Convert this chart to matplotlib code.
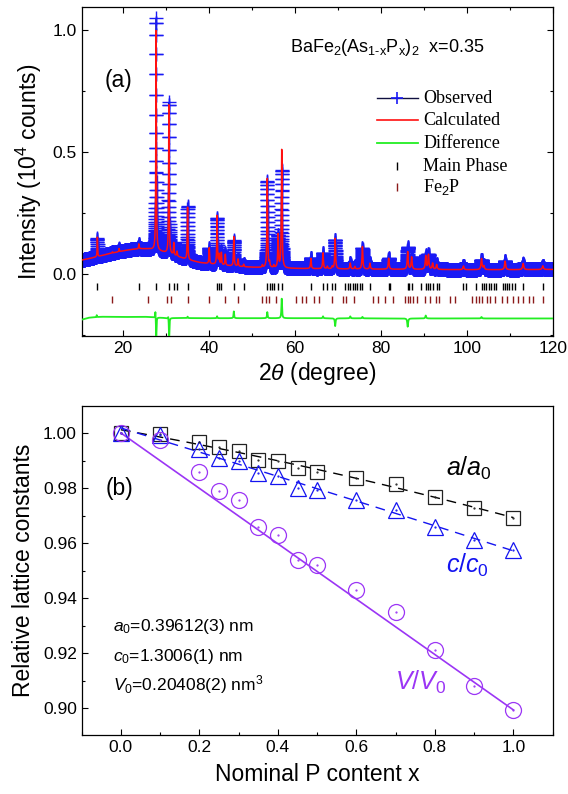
import numpy as np
import matplotlib
matplotlib.use('Agg')
import matplotlib.pyplot as plt
from matplotlib.ticker import MultipleLocator, FixedLocator, FormatStrFormatter

plt.rcParams['font.family'] = ['Liberation Sans', 'DejaVu Sans']
plt.rcParams['mathtext.fontset'] = 'custom'
plt.rcParams['mathtext.rm'] = 'Liberation Sans'
plt.rcParams['mathtext.it'] = 'Liberation Sans:italic'
plt.rcParams['mathtext.bf'] = 'Liberation Sans:bold'

# ---------------- Panel (a): XRD refinement ----------------
# background control points (2theta, 10^4 counts)
bg_pos = [10, 12, 14, 16, 18, 20, 22, 24, 26, 28, 30, 32, 35, 38, 42, 46, 50, 55, 60, 70, 80, 90, 100, 110, 120]
bg_val = [0.055, 0.062, 0.070, 0.079, 0.087, 0.094, 0.100, 0.103, 0.102, 0.096, 0.086, 0.075, 0.058, 0.046, 0.037, 0.031, 0.027, 0.024, 0.022, 0.020, 0.019, 0.018, 0.017, 0.017, 0.018]

# reflections: position, calculated height, observed height
peak_pos = [14.05, 17.56, 19.1, 23.7, 27.71, 30.69, 31.83, 32.60, 35.04, 40.08,
            41.91, 42.37, 42.90, 43.82, 45.80, 46.79, 48.09, 52.44, 53.59, 54.12,
            55.11, 56.11, 56.95, 63.74, 66.56, 67.56, 68.70, 69.39, 72.90, 73.97,
            75.73, 77.48, 81.83, 86.26, 87.18, 90.46, 91.10, 92.06, 93.00, 99.24,
            103.44, 104.0, 108.93, 113.13, 117.71]
peak_calc = [0.080, 0.005, 0.013, 0.020, 0.900, 0.610, 0.050, 0.020, 0.215, 0.065,
             0.200, 0.040, 0.050, 0.045, 0.120, 0.030, 0.010, 0.010, 0.365, 0.020,
             0.010, 0.135, 0.485, 0.042, 0.065, 0.010, 0.010, 0.125, 0.024, 0.010,
             0.092, 0.024, 0.045, 0.072, 0.050, 0.055, 0.060, 0.025, 0.020, 0.015,
             0.045, 0.015, 0.035, 0.025, 0.015]
peak_obs = [0.075, 0.005, 0.013, 0.020, 0.950, 0.620, 0.050, 0.020, 0.220, 0.065,
            0.190, 0.045, 0.055, 0.050, 0.105, 0.030, 0.010, 0.010, 0.355, 0.020,
            0.010, 0.130, 0.400, 0.045, 0.065, 0.010, 0.010, 0.120, 0.024, 0.010,
            0.085, 0.024, 0.045, 0.090, 0.050, 0.055, 0.060, 0.025, 0.020, 0.015,
            0.040, 0.015, 0.035, 0.025, 0.015]

main_ticks = [14.05, 23.66, 27.71, 30.69, 31.83, 32.60, 35.04, 41.91, 42.37, 42.90,
              45.80, 48.09, 53.59, 54.12, 54.58, 55.11, 56.11, 56.95, 63.74, 66.56,
              67.56, 68.70, 69.39, 71.76, 72.29, 72.90, 73.44, 73.97, 74.58, 75.11,
              75.73, 77.48, 81.83, 82.21, 86.26, 86.50, 87.18, 89.31, 90.46, 90.99,
              91.53, 92.06, 92.98, 93.44, 99.24, 99.85, 102.14, 103.44, 103.97, 104.50,
              105.11, 105.65, 106.26, 106.87, 108.55, 108.93, 109.31, 109.92, 110.46,
              111.22, 113.13, 117.71]
fe2p_ticks = [17.56, 25.73, 30.31, 31.07, 35.04, 40.08, 43.82, 46.79, 52.44, 53.21,
              53.97, 55.65, 60.23, 61.60, 62.60, 64.43, 65.57, 68.70, 71.30, 71.91,
              73.66, 78.17, 79.31, 80.92, 82.82, 85.65, 86.26, 86.79, 87.40, 88.47,
              90.23, 91.53, 92.90, 93.51, 96.18, 97.25, 101.30, 102.06, 102.82, 103.59,
              104.73, 105.50, 106.64, 108.17, 109.31, 110.69, 111.98, 113.13, 114.50,
              115.42, 117.71]

diff_base_pos = [10, 12, 15, 20, 25, 30, 40, 60, 90, 120]
diff_base_val = [-0.190, -0.180, -0.176, -0.177, -0.176, -0.181, -0.182, -0.182, -0.183, -0.183]
diff_pos = [13.9, 27.55, 27.75, 30.55, 30.75, 35.04, 41.91, 45.80, 53.59, 56.95, 66.56, 69.39, 72.9, 75.73, 86.26, 90.46, 103.44]
diff_amp = [0.008, 0.030, -0.090, 0.012, -0.090, 0.006, 0.008, 0.028, 0.025, 0.080, 0.008, -0.032, 0.008, 0.006, -0.034, 0.012, 0.006]

# ---------------- Panel (b): lattice constants ----------------
x_nom = [0.0, 0.1, 0.2, 0.25, 0.3, 0.35, 0.4, 0.45, 0.5, 0.6, 0.7, 0.8, 0.9, 1.0]
a_rel = [1.0000, 0.9995, 0.9969, 0.9949, 0.9936, 0.9903, 0.9897, 0.9873, 0.9860, 0.9836, 0.9813, 0.9769, 0.9726, 0.9693]
c_rel = [1.0000, 0.9993, 0.9942, 0.9909, 0.9897, 0.9855, 0.9842, 0.9802, 0.9794, 0.9755, 0.9719, 0.9660, 0.9612, 0.9576]
v_rel = [1.0000, 0.9976, 0.9860, 0.9788, 0.9758, 0.9660, 0.9630, 0.9537, 0.9521, 0.9430, 0.9351, 0.9212, 0.9081, 0.8994]

BLUE = '#1414F0'
PURPLE = '#9B35F5'
FE2P = '#8B1A1A'

def profile(tt, pos, heights, base):
    out = np.interp(tt, bg_pos, base)
    for p, h in zip(pos, heights):
        w = 0.055 + 0.0009 * (p - 10)
        out = out + h / (1.0 + ((tt - p) / w) ** 2)
    return out

tt = np.arange(10.0, 120.0001, 0.01)
calc = profile(tt, peak_pos, peak_calc, bg_val)
obs = profile(tt, peak_pos, peak_obs, bg_val)
diff = np.interp(tt, diff_base_pos, diff_base_val)
for p, h in zip(diff_pos, diff_amp):
    w = 0.05 + 0.0008 * (p - 10)
    diff = diff + h / (1.0 + ((tt - p) / w) ** 2)

fig = plt.figure(figsize=(5.68, 7.94), dpi=100)
ax1 = fig.add_axes([0.1438, 0.5768, 0.8292, 0.4147])
ax2 = fig.add_axes([0.1438, 0.0743, 0.8292, 0.4147])

ax1.plot(tt, obs, color='#00007A', lw=0.6, marker='+', ms=10.5, mew=1.0,
         mec='#1A1AF5', zorder=2)
ax1.plot(tt, calc, color='#FF1010', lw=1.1, zorder=3)
ax1.plot(tt, diff, color='#22EE22', lw=1.3, zorder=3)
ax1.vlines(main_ticks, -0.066, -0.039, color='black', lw=1.0)
ax1.vlines(fe2p_ticks, -0.118, -0.091, color=FE2P, lw=1.0)

ax1.set_xlim(10.4, 120)
ax1.set_ylim(-0.255, 1.095)
ax1.xaxis.set_major_locator(MultipleLocator(20))
ax1.xaxis.set_minor_locator(MultipleLocator(10))
ax1.yaxis.set_major_locator(FixedLocator([0.0, 0.5, 1.0]))
ax1.yaxis.set_minor_locator(FixedLocator([-0.25, 0.25, 0.75]))
ax1.set_yticklabels(['0.0', '0.5', '1.0'])
ax1.tick_params(which='both', direction='in', top=True, right=True, labelsize=12.5)
ax1.tick_params(which='major', length=4.5, width=0.8)
ax1.tick_params(which='minor', length=2.5, width=0.8)
ax1.set_xlabel(r'2$\theta$ (degree)', fontsize=16.5, labelpad=3)
ax1.set_ylabel(r'Intensity (10$^4$ counts)', fontsize=16.5, labelpad=6)

ax1.text(0.442, 0.875, r'BaFe$_2$(As$_{\text{1-x}}$P$_{\mathrm{x}}$)$_2$  x=0.35',
         transform=ax1.transAxes, fontsize=13, va='center', ha='left')
ax1.text(0.049, 0.777, '(a)', transform=ax1.transAxes, fontsize=16.5, va='center', ha='left')

# legend drawn by hand
lx0, lx1, ltx = 0.626, 0.714, 0.725
rows = [0.7227, 0.656, 0.585, 0.516, 0.453]
serif = ['Liberation Serif', 'DejaVu Serif']
ax1.plot([lx0, lx1], [rows[0]] * 2, color='#101040', lw=1.0, transform=ax1.transAxes)
ax1.plot([(lx0 + lx1) / 2], [rows[0]], marker='+', ms=9, mew=1.2, color='#1A1AF5',
         transform=ax1.transAxes)
ax1.plot([lx0, lx1], [rows[1]] * 2, color='#FF1010', lw=1.2, transform=ax1.transAxes)
ax1.plot([lx0, lx1], [rows[2]] * 2, color='#22EE22', lw=1.3, transform=ax1.transAxes)
ax1.plot([(lx0 + lx1) / 2], [rows[3]], marker='|', ms=6, mew=1.0, color='black',
         transform=ax1.transAxes)
ax1.plot([(lx0 + lx1) / 2], [rows[4]], marker='|', ms=6, mew=1.0, color=FE2P,
         transform=ax1.transAxes)
for lab, y in zip(['Observed', 'Calculated', 'Difference', 'Main Phase', r'Fe$_2$P'], rows):
    ax1.text(ltx, y, lab, transform=ax1.transAxes, fontsize=13, family=serif,
             va='center', ha='left')

# ---------------- Panel (b) ----------------
xa = np.array(x_nom)
xf = np.linspace(0, 1, 200)
ca = np.polyfit(xa, a_rel, 2)
cc = np.polyfit(xa, c_rel, 2)
ax2.plot(xf, np.polyval(ca, xf), color='black', lw=1.0, dashes=(7, 5), zorder=2)
ax2.plot(xf, np.polyval(cc, xf), color=BLUE, lw=1.0, dashes=(7, 5), zorder=2)
ax2.plot([x_nom[0], x_nom[-1]], [v_rel[0], v_rel[-1]], color=PURPLE, lw=1.2, zorder=2)

ax2.plot(x_nom, a_rel, ls='none', marker='s', ms=10.5, mfc='none', mec='#222222', mew=0.9, zorder=3)
ax2.plot(x_nom, c_rel, ls='none', marker='^', ms=11.5, mfc='none', mec=BLUE, mew=0.9, zorder=3)
ax2.plot(x_nom, v_rel, ls='none', marker='o', ms=11.5, mfc='none', mec=PURPLE, mew=0.9, zorder=3)
ax2.plot(x_nom, a_rel, ls='none', marker='.', ms=1.2, color='#222222', zorder=4)
ax2.plot(x_nom, c_rel, ls='none', marker='.', ms=1.2, color=BLUE, zorder=4)
ax2.plot(x_nom, v_rel, ls='none', marker='.', ms=1.2, color=PURPLE, zorder=4)

ax2.set_xlim(-0.1, 1.1)
ax2.set_ylim(0.8903, 1.0099)
ax2.xaxis.set_major_locator(MultipleLocator(0.2))
ax2.xaxis.set_minor_locator(MultipleLocator(0.1))
ax2.yaxis.set_major_locator(MultipleLocator(0.02))
ax2.yaxis.set_minor_locator(MultipleLocator(0.01))
ax2.xaxis.set_major_formatter(FormatStrFormatter('%.1f'))
ax2.yaxis.set_major_formatter(FormatStrFormatter('%.2f'))
ax2.tick_params(which='both', direction='in', labelsize=12.5)
ax2.tick_params(which='major', length=4.5, width=0.8)
ax2.tick_params(which='minor', length=2.5, width=0.8)
ax2.set_xlabel('Nominal P content x', fontsize=16.5, labelpad=6)
ax2.set_ylabel('Relative lattice constants', fontsize=16.5, labelpad=6)

ax2.text(-0.04, 0.980, '(b)', fontsize=16.5, va='center', ha='left')
ax2.text(0.829, 0.9845, r'$a/a_{\mathrm{0}}$', fontsize=18, va='baseline', ha='left')
ax2.text(0.829, 0.9492, r'$c/c_{\mathrm{0}}$', fontsize=18, va='baseline', ha='left', color=BLUE)
ax2.text(0.699, 0.9067, r'$V/V_{\mathrm{0}}$', fontsize=18, va='baseline', ha='left', color=PURPLE)
ax2.text(-0.02, 0.9297, r'$a_{\mathrm{0}}$=0.39612(3) nm', fontsize=12.5, va='center', ha='left')
ax2.text(-0.02, 0.9188, r'$c_{\mathrm{0}}$=1.3006(1) nm', fontsize=12.5, va='center', ha='left')
ax2.text(-0.02, 0.9085, r'$V_{\mathrm{0}}$=0.20408(2) nm$^{\mathrm{3}}$', fontsize=12.5, va='center', ha='left')

for ax in (ax1, ax2):
    for sp in ax.spines.values():
        sp.set_linewidth(0.9)

fig.savefig('out.png', dpi=100)
